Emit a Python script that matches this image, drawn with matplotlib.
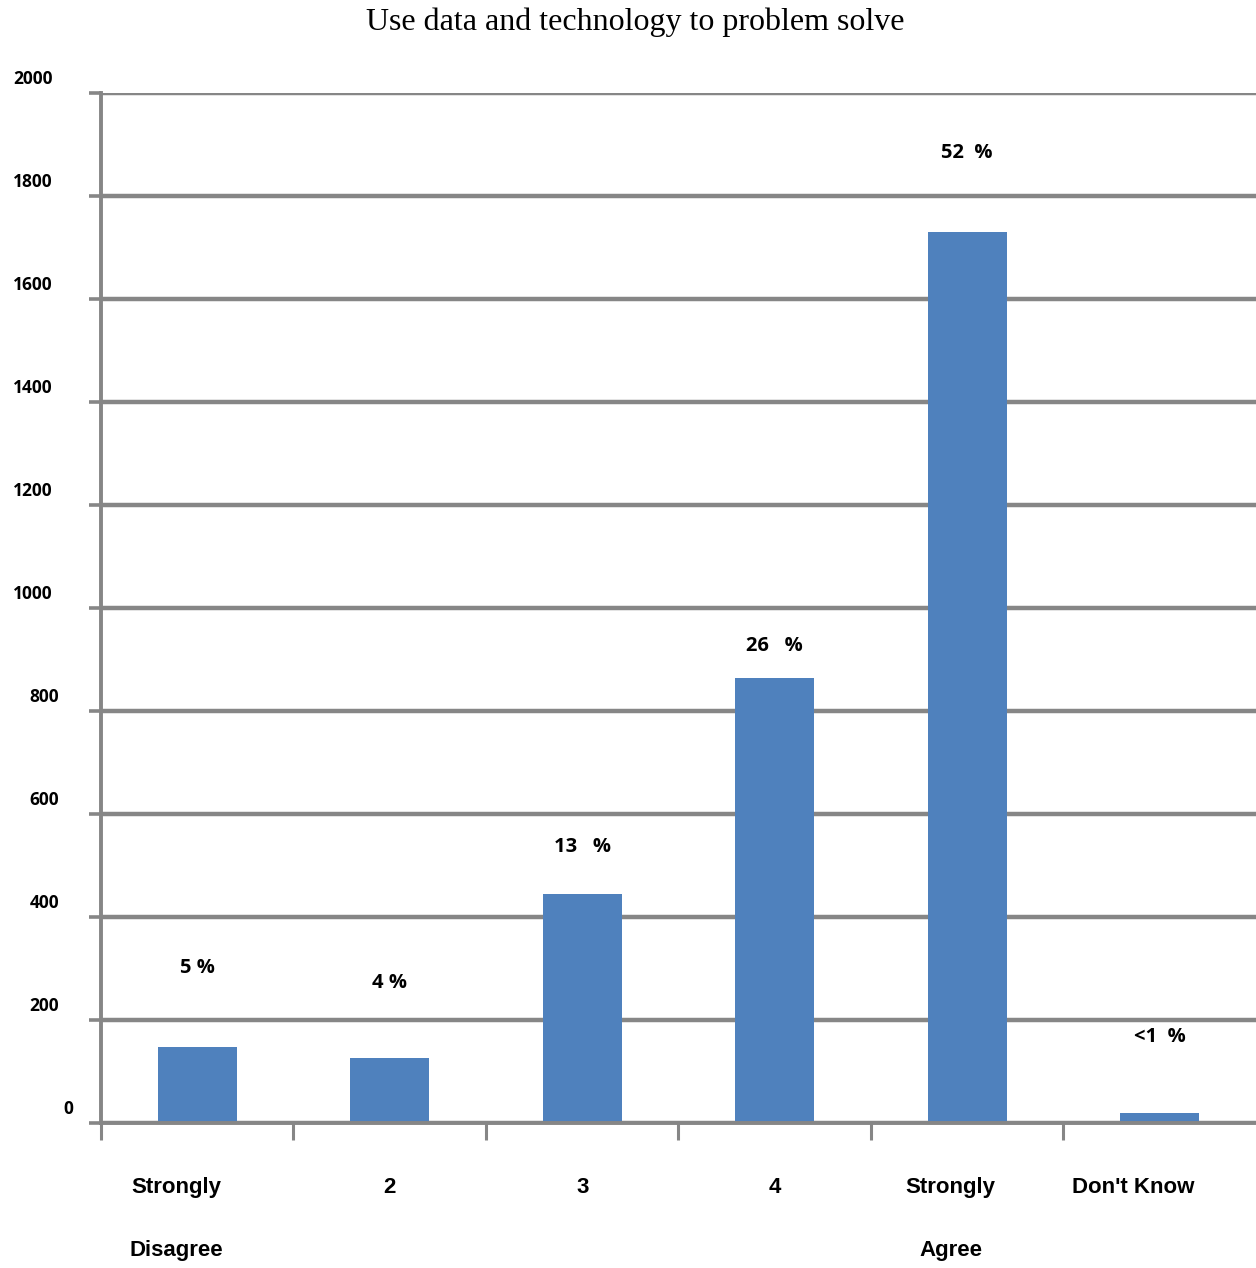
import matplotlib.pyplot as plt
import matplotlib.transforms as mtransforms
import numpy as np

# respuestas por categoria
categorias_top = ["Strongly", "2", "3", "4", "Strongly", "Don't Know"]
categorias_bot = ["Disagree", "", "", "", "Agree", ""]
conteos = [148, 127, 445, 865, 1731, 20]
porcentajes = ["5 %", "4 %", "13   %", "26   %", "52  %", "<1  %"]
yticks = [0, 200, 400, 600, 800, 1000, 1200, 1400, 1600, 1800, 2000]

# ajustes de posicion de las etiquetas (en puntos)
pct_pad = [57, 54, 34, 23, 57, 55]
cat_shift = [-15, 0, 0, 0, -12, -19]

azul = '#4F81BD'
gris = '#868686'


def run():
    fig = plt.figure(figsize=(12.56, 12.68), dpi=100)
    ax = fig.add_axes([0.0804, 0.114, 0.9196, 0.8123])

    x = np.arange(len(conteos))
    ax.bar(x, conteos, width=0.41, color=azul, zorder=2)

    ax.set_xlim(-0.5, len(conteos) - 0.5)
    ax.set_ylim(0, 2000)

    ax.set_yticks(yticks)
    ax.set_yticklabels([])
    ax.set_xticks(np.arange(len(conteos)) - 0.5)
    ax.set_xticklabels([])
    ax.tick_params(axis='y', length=8.6, width=2.6, color=gris, direction='out')
    ax.tick_params(axis='x', length=12.5, width=2.2, color=gris, direction='out')

    ax.grid(axis='y', color=gris, linewidth=3.2)
    ax.set_axisbelow(True)

    for s in ['top', 'right']:
        ax.spines[s].set_visible(False)
    for s in ['left', 'bottom']:
        ax.spines[s].set_color(gris)
        ax.spines[s].set_linewidth(2.8)

    # etiquetas del eje y, un poco por encima de cada linea
    ytr = mtransforms.offset_copy(ax.get_yaxis_transform(), fig=fig, x=0, y=10.5, units='points')
    for v in yticks:
        pad = 0.006 * (4 - len(str(v)))
        ax.text(-0.042 + pad, v, str(v), transform=ytr, ha='right', va='center',
                fontsize=12.5, fontweight='bold', family='Open Sans')

    # etiquetas de categorias en dos renglones
    for i in range(len(conteos)):
        t1 = mtransforms.offset_copy(ax.get_xaxis_transform(), fig=fig,
                                     x=cat_shift[i], y=-46, units='points')
        t2 = mtransforms.offset_copy(ax.get_xaxis_transform(), fig=fig,
                                     x=cat_shift[i], y=-91.5, units='points')
        ax.text(i, 0, categorias_top[i], transform=t1, ha='center', va='center',
                fontsize=16, fontweight='bold', family='Liberation Sans')
        if categorias_bot[i]:
            ax.text(i, 0, categorias_bot[i], transform=t2, ha='center', va='center',
                    fontsize=16, fontweight='bold', family='Liberation Sans')

    # porcentajes encima de las barras
    for i, (c, p) in enumerate(zip(conteos, porcentajes)):
        ax.annotate(p, (i, c), xytext=(0, pct_pad[i]), textcoords='offset points',
                    ha='center', va='center', fontsize=14.5, fontweight='bold',
                    family='Open Sans')

    fig.text(0.5056, 0.9826, 'Use data and technology to problem solve',
             ha='center', va='center', fontsize=23, family='Liberation Serif')

    plt.savefig('out.png', dpi=100)


if __name__ == '__main__':
    run()
